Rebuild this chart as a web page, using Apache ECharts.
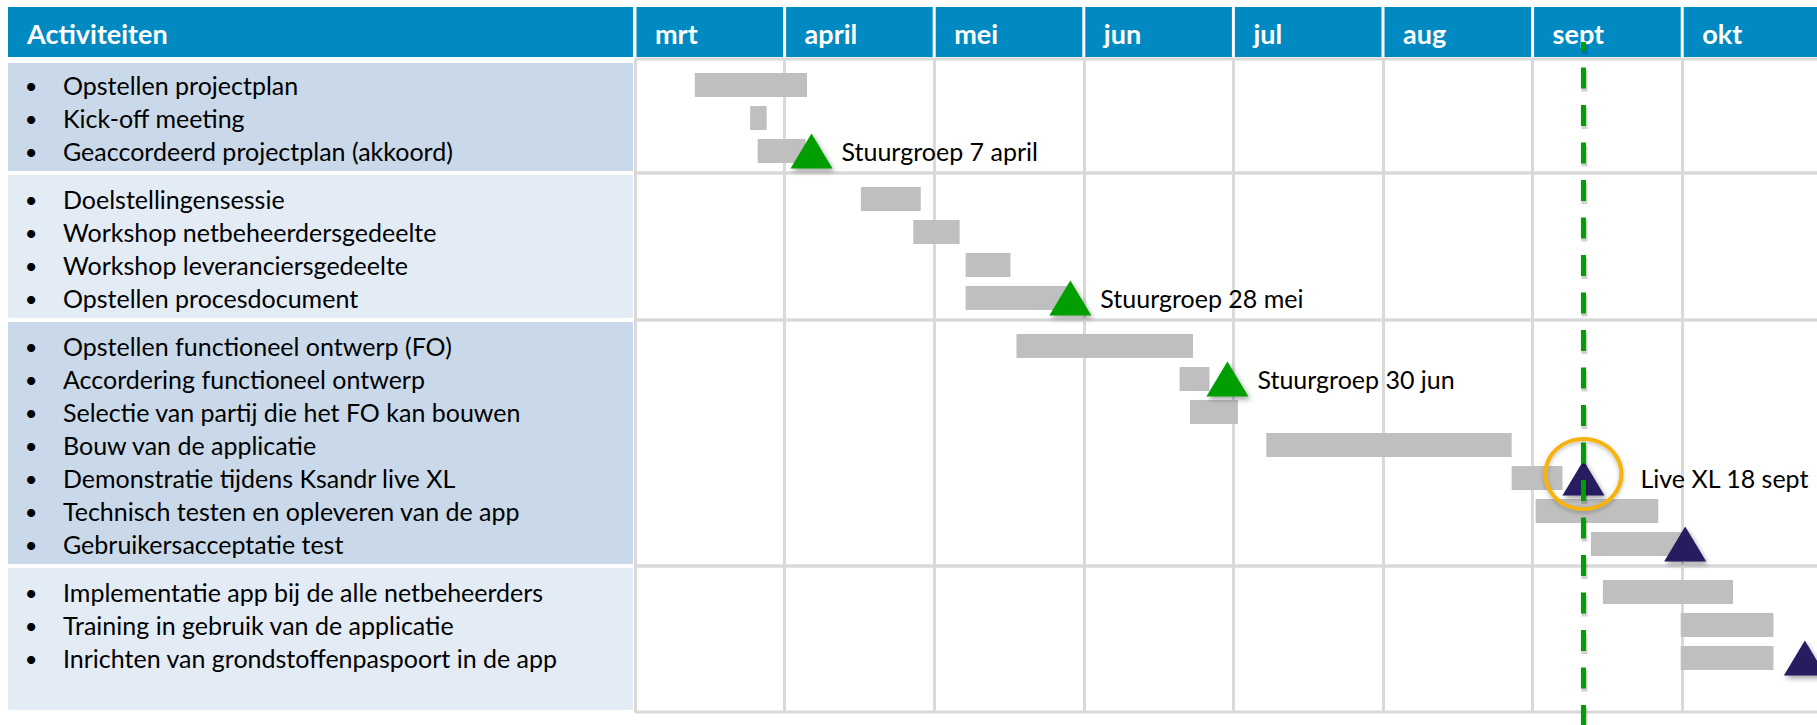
<!DOCTYPE html>
<html><head><meta charset="utf-8">
<script src="https://cdn.jsdelivr.net/npm/echarts@6/dist/echarts.min.js"></script>
<style>html,body{margin:0;padding:0;background:#fff}#c{width:1817px;height:725px}</style>
</head><body><div id="c"></div>
<script>
// ---------- data ----------
const headerTitle = 'Activiteiten';
const months = ['mrt','april','mei','jun','jul','aug','sept','okt'];
const groupSizes = [3, 4, 7, 3];
const activities = [
  'Opstellen projectplan',
  'Kick-off meeting',
  'Geaccordeerd projectplan (akkoord)',
  'Doelstellingensessie',
  'Workshop netbeheerdersgedeelte',
  'Workshop leveranciersgedeelte',
  'Opstellen procesdocument',
  'Opstellen functioneel ontwerp (FO)',
  'Accordering functioneel ontwerp',
  'Selectie van partij die het FO kan bouwen',
  'Bouw van de applicatie',
  'Demonstratie tijdens Ksandr live XL',
  'Technisch testen en opleveren van de app',
  'Gebruikersacceptatie test',
  'Implementatie app bij de alle netbeheerders',
  'Training in gebruik van de applicatie',
  'Inrichten van grondstoffenpaspoort in de app'
];
// in months from the start of "mrt"
const startMonth = [0.40, 0.77, 0.82, 1.51, 1.86, 2.21, 2.21, 2.55, 3.64, 3.71, 4.22, 5.86, 6.02, 6.39, 6.47, 6.99, 6.99];
const endMonth   = [1.15, 0.88, 1.14, 1.91, 2.17, 2.51, 2.90, 3.73, 3.84, 4.03, 5.86, 6.20, 6.84, 7.00, 7.34, 7.61, 7.61];
const milestoneRow   = [2, 6, 8, 11, 13, 16];
const milestoneAt    = [1.18, 2.91, 3.96, 6.34, 7.02, 7.82];
const milestoneLabel = ['Stuurgroep 7 april', 'Stuurgroep 28 mei', 'Stuurgroep 30 jun', 'Live XL 18 sept', '', ''];
const milestoneKind  = ['stuurgroep', 'stuurgroep', 'stuurgroep', 'event', 'event', 'event'];
const highlightMilestone = 3;

// ---------- layout / style ----------
const W = 1817;
const GRID_TOP = 59, GRID_H = 653;
const LEFT_X = 8, LEFT_W = 625, GANTT_X = 635, MONTH_W = 149.6;
const X_MAX = (W - GANTT_X) / MONTH_W;
const ROW_PITCH = 33, GROUP_PAD = 15, FIRST_OFFSET = 26;
const HEAD_TOP = 7, HEAD_BOT = 57;
const FONT = 'Lato';
const TXT = 25, HEAD_TXT = 27;
const C = {
  head: '#0189C1', dark: '#C9D9E9', light: '#E3EBF5', grid: '#D9D9D9',
  bar: '#BFBFBF', green: '#009E00', navy: '#251B5E', ring: '#F6B20F'
};

const rowY = [], groupTop = [], groupBottom = [];
let yy = 0;
groupSizes.forEach((n, g) => {
  groupTop.push(yy);
  for (let k = 0; k < n; k++) rowY.push(yy + FIRST_OFFSET + k * ROW_PITCH);
  yy += GROUP_PAD + n * ROW_PITCH;
  groupBottom.push(g === groupSizes.length - 1 ? GRID_H : yy);
});

const chart = echarts.init(document.getElementById('c'), null, {renderer: 'svg'});

const shadow = {shadowColor: 'rgba(0,0,0,0.35)', shadowBlur: 5, shadowOffsetX: 2, shadowOffsetY: 3};

const option = {
  animation: false,
  backgroundColor: '#fff',
  grid: [
    {left: LEFT_X, top: GRID_TOP, width: LEFT_W, height: GRID_H},
    {left: GANTT_X, top: GRID_TOP, right: 0, height: GRID_H}
  ],
  xAxis: [
    {gridIndex: 0, type: 'value', min: 0, max: 1, show: false},
    {gridIndex: 1, type: 'value', min: 0, max: X_MAX, interval: 1,
     axisLabel: {show: false}, axisLine: {show: false}, axisTick: {show: false},
     splitLine: {show: true, showMaxLine: false, lineStyle: {color: C.grid, width: 3}}}
  ],
  yAxis: [
    {gridIndex: 0, type: 'value', min: 0, max: GRID_H, inverse: true, show: false},
    {gridIndex: 1, type: 'value', min: 0, max: GRID_H, inverse: true, show: false}
  ],
  series: [
    // left panel group boxes
    {type: 'custom', xAxisIndex: 0, yAxisIndex: 0, z: 1,
     data: groupSizes.map((n, g) => [g]),
     renderItem: (p, api) => {
       const g = api.value(0);
       const a = api.coord([0, groupTop[g]]), b = api.coord([1, groupBottom[g]]);
       const t = g === 0 ? 4 : 2;
       return {type: 'rect', shape: {x: a[0], y: a[1] + t, width: b[0] - a[0], height: b[1] - a[1] - t - 2},
               style: {fill: g % 2 === 0 ? C.dark : C.light}};
     }},
    // left panel header
    {type: 'custom', xAxisIndex: 0, yAxisIndex: 0, z: 5,
     data: [[0]],
     renderItem: (p, api) => {
       const a = api.coord([0, 0]), b = api.coord([1, 0]);
       return {type: 'group', children: [
         {type: 'rect', shape: {x: a[0], y: HEAD_TOP, width: b[0] - a[0], height: HEAD_BOT - HEAD_TOP}, style: {fill: C.head}},
         {type: 'text', x: a[0] + 19, y: (HEAD_TOP + HEAD_BOT) / 2 + 1,
          style: {text: headerTitle, fill: '#fff', font: 'bold ' + HEAD_TXT + 'px ' + FONT, verticalAlign: 'middle'}}
       ]};
     }},
    // activity texts
    {type: 'custom', xAxisIndex: 0, yAxisIndex: 0, z: 3,
     data: activities.map((name, i) => [0, rowY[i]]),
     renderItem: (p, api) => {
       const c = api.coord([0, api.value(1)]);
       return {type: 'group', children: [
         {type: 'text', x: c[0] + 23, y: c[1], style: {text: '•', fill: '#000', font: '22px ' + FONT, align: 'center', verticalAlign: 'middle'}},
         {type: 'text', x: c[0] + 55, y: c[1], style: {text: activities[p.dataIndex], fill: '#000', font: TXT + 'px ' + FONT, verticalAlign: 'middle'}}
       ]};
     }},
    // month header cells
    {type: 'custom', xAxisIndex: 1, yAxisIndex: 1, z: 5,
     data: months.map((m, i) => [i]),
     renderItem: (p, api) => {
       const i = api.value(0);
       const a = api.coord([i, 0]), b = api.coord([i + 1, 0]);
       return {type: 'group', children: [
         {type: 'rect', shape: {x: a[0] + 1.5, y: HEAD_TOP, width: b[0] - a[0] - 3, height: HEAD_BOT - HEAD_TOP}, style: {fill: C.head}},
         {type: 'text', x: a[0] + 20, y: (HEAD_TOP + HEAD_BOT) / 2 + 1,
          style: {text: months[i], fill: '#fff', font: 'bold ' + HEAD_TXT + 'px ' + FONT, verticalAlign: 'middle'}}
       ]};
     }},
    // horizontal group lines
    {type: 'custom', xAxisIndex: 1, yAxisIndex: 1, z: 1,
     data: groupSizes.map((n, g) => [g]),
     renderItem: (p, api) => {
       const g = api.value(0);
       const a = api.coord([0, groupTop[g]]), b = api.coord([X_MAX, groupTop[g]]);
       const c = api.coord([0, groupBottom[g]]);
       return {type: 'group', children: [
         {type: 'line', shape: {x1: a[0], y1: a[1], x2: b[0], y2: b[1]}, style: {stroke: C.grid, lineWidth: 3}},
         {type: 'line', shape: {x1: c[0], y1: c[1], x2: b[0], y2: c[1]}, style: {stroke: C.grid, lineWidth: 3}}
       ]};
     }},
    // activity bars
    {type: 'custom', xAxisIndex: 1, yAxisIndex: 1, z: 2,
     encode: {x: [0, 1], y: 2},
     data: activities.map((n, i) => [startMonth[i], endMonth[i], rowY[i]]),
     renderItem: (p, api) => {
       const a = api.coord([api.value(0), api.value(2)]), b = api.coord([api.value(1), api.value(2)]);
       return {type: 'rect', shape: {x: a[0], y: a[1] - 12, width: b[0] - a[0], height: 24}, style: {fill: C.bar}};
     }},
    // milestones
    {type: 'scatter', xAxisIndex: 1, yAxisIndex: 1, z: 3,
     symbol: 'triangle', symbolSize: [42, 35],
     data: milestoneAt.map((x, k) => ({
       value: [x, rowY[milestoneRow[k]]],
       itemStyle: Object.assign({color: milestoneKind[k] === 'stuurgroep' ? C.green : C.navy, opacity: 1}, shadow),
       label: {show: !!milestoneLabel[k], position: 'right', distance: k === highlightMilestone ? 36 : 9,
               formatter: milestoneLabel[k], color: '#000', fontFamily: FONT, fontSize: TXT}
     }))},
    // highlight ring
    {type: 'scatter', xAxisIndex: 1, yAxisIndex: 1, z: 4,
     symbol: 'circle', symbolSize: [76, 70],
     data: [[milestoneAt[highlightMilestone], rowY[milestoneRow[highlightMilestone]] - 4]],
     itemStyle: {color: 'rgba(0,0,0,0)', borderColor: C.ring, borderWidth: 4, opacity: 1,
                 shadowColor: 'rgba(0,0,0,0.25)', shadowBlur: 4, shadowOffsetY: 2}},
    // dashed date line (with soft offset shadow copy)
    {type: 'custom', xAxisIndex: 1, yAxisIndex: 1, z: 6,
     data: [[milestoneAt[highlightMilestone], 0]],
     renderItem: (p, api) => {
       const x = api.coord([api.value(0), 0])[0];
       return {type: 'group', children: [
         {type: 'line', shape: {x1: x + 1, y1: 45, x2: x + 1, y2: 733},
          style: {stroke: 'rgba(0,0,0,0.18)', lineWidth: 6, lineDash: [21, 16.5], lineDashOffset: 11.5}},
         {type: 'line', shape: {x1: x, y1: 42, x2: x, y2: 730},
          style: {stroke: C.green, lineWidth: 5, lineDash: [21, 16.5], lineDashOffset: 11.5}}
       ]};
     }}
  ]
};
chart.setOption(option);
</script></body></html>
